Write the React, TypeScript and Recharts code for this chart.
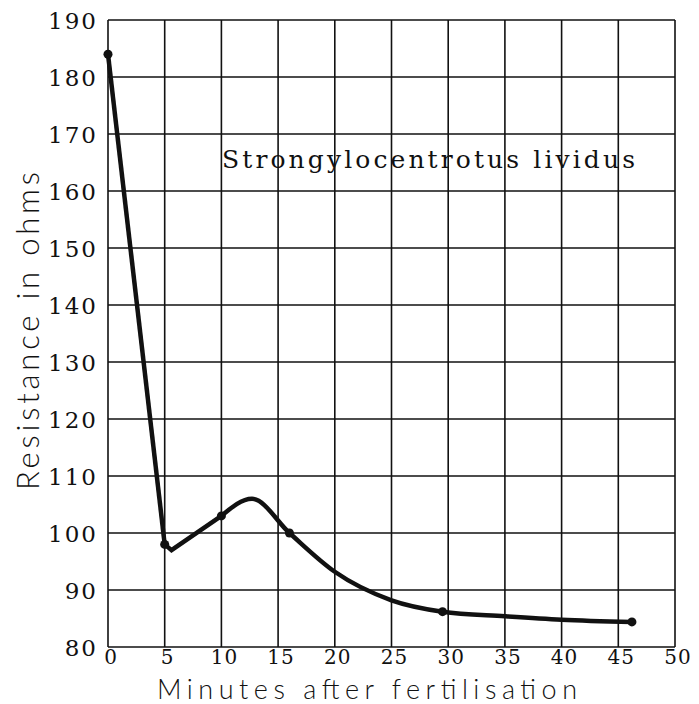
import {
  ComposedChart,
  Line,
  Scatter,
  XAxis,
  YAxis,
  CartesianGrid,
  Customized,
} from 'recharts';

// Measured readings (minutes after fertilisation, resistance in ohms)
const readingMinutes = [0, 5, 10, 16, 29.5, 46.2];
const readingOhms = [184, 98, 103, 100, 86.2, 84.4];

// Steep initial drop, drawn straight
const dropMinutes = [0, 5];
const dropOhms = [184, 98];

// Short straight rise out of the minimum
const riseMinutes = [5, 5.6, 10];
const riseOhms = [98, 97, 103];

// Smoothed curve over the peak and the slow decline
const curveMinutes = [10, 12.7, 16, 20, 25, 29.5, 35, 40, 46.2];
const curveOhms = [103, 106, 100, 93.2, 88.2, 86.2, 85.4, 84.8, 84.4];

const xTicks = [0, 5, 10, 15, 20, 25, 30, 35, 40, 45, 50];
const yTicks = [80, 90, 100, 110, 120, 130, 140, 150, 160, 170, 180, 190];

const toPoints = (xs: number[], ys: number[]) => xs.map((x, i) => ({ x, y: ys[i] }));

const readings = toPoints(readingMinutes, readingOhms);
const drop = toPoints(dropMinutes, dropOhms);
const rise = toPoints(riseMinutes, riseOhms);
const curve = toPoints(curveMinutes, curveOhms);

const ink = '#111';
const serif = 'DejaVu Serif, Liberation Serif, serif';
const hand = 'Lato, DejaVu Sans, sans-serif';

const YTick = (props: any) => {
  const { y, payload } = props;
  return (
    <text
      x={98}
      y={y + 3}
      textAnchor="end"
      dominantBaseline="middle"
      fontFamily={serif}
      fontSize={23}
      letterSpacing={2}
      fill={ink}
    >
      {payload.value}
    </text>
  );
};

const XTick = (props: any) => {
  const { x, payload } = props;
  return (
    <text
      x={x + 3}
      y={658}
      textAnchor="middle"
      dominantBaseline="middle"
      fontFamily={serif}
      fontSize={20}
      letterSpacing={1}
      fill={ink}
    >
      {payload.value}
    </text>
  );
};

const Titles = () => (
  <g>
    <text
      x={222}
      y={168}
      fontFamily={serif}
      fontSize={25}
      textLength={413}
      lengthAdjust="spacing"
      fill={ink}
    >
      Strongylocentrotus lividus
    </text>
    <text
      x={157}
      y={699}
      fontFamily={hand}
      fontWeight={300}
      fontSize={27}
      textLength={420}
      lengthAdjust="spacing"
      fill={ink}
    >
      Minutes  after  fertilisation
    </text>
    <text
      x={0}
      y={0}
      transform="translate(39 490) rotate(-90)"
      fontFamily={hand}
      fontWeight={300}
      fontSize={31}
      textLength={318}
      lengthAdjust="spacing"
      fill={ink}
    >
      Resistance  in  ohms
    </text>
  </g>
);

const lineProps = {
  dataKey: 'y',
  stroke: ink,
  strokeWidth: 4.5,
  dot: false,
  activeDot: false,
  isAnimationActive: false,
};

export default function App() {
  return (
    <div style={{ position: 'absolute', left: 0, top: 0, background: '#fff' }}>
      <ComposedChart
        width={699}
        height={704}
        margin={{ top: 20, right: 24, left: 18, bottom: 7 }}
      >
        <CartesianGrid stroke={ink} strokeWidth={1.6} />
        <XAxis
          type="number"
          dataKey="x"
          domain={[0, 50]}
          ticks={xTicks}
          axisLine={false}
          tickLine={false}
          height={50}
          tick={<XTick />}
          interval={0}
        />
        <YAxis
          type="number"
          dataKey="y"
          domain={[80, 190]}
          ticks={yTicks}
          axisLine={false}
          tickLine={false}
          width={90}
          tick={<YTick />}
          interval={0}
        />
        <Line data={drop} type="linear" {...lineProps} />
        <Line data={rise} type="linear" {...lineProps} />
        <Line data={curve} type="monotone" {...lineProps} />
        <Scatter data={readings} dataKey="y" fill={ink} isAnimationActive={false} />
        <Customized component={Titles} />
      </ComposedChart>
    </div>
  );
}
